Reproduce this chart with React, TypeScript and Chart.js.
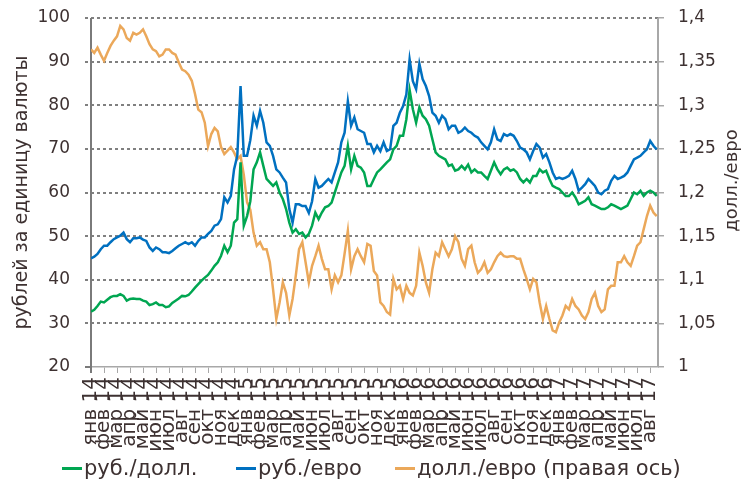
import React, { useEffect, useRef } from 'react';
import { Chart, registerables } from 'chart.js';

Chart.register(...registerables);

// Month labels and years of the x axis (Jan 2014 – Aug 2017)
const MONTHS = ['янв', 'фев', 'мар', 'апр', 'май', 'июн', 'июл', 'авг', 'сен', 'окт', 'ноя', 'дек'];
const YEARS = ['14', '15', '16', '17'];
const MONTH_COUNT = 44; // янв 14 … авг 17
const X_MAX = 43.6; // last observation (late Aug 2017), in months from Jan 2014
const STEP = 0.25; // samples every quarter of a month (≈ weekly)

// руб./долл. (left axis)
const rubUsd = [
  32.7, 33.1, 34.0, 35.0, 34.8, 35.4, 36.0, 36.3, 36.3, 36.7,
  36.3, 35.2, 35.6, 35.7, 35.6, 35.6, 35.2, 35.0, 34.2, 34.4,
  34.8, 34.2, 34.2, 33.7, 33.9, 34.7, 35.2, 35.7, 36.3, 36.2,
  36.5, 37.3, 38.2, 39.0, 39.8, 40.5, 41.1, 42.1, 43.2, 44.0,
  45.5, 47.8, 46.3, 47.8,
  53.1, 53.9, 66.9, 52.4, 54.6, 58.0, 65.3, 66.9, 69.2, 66.1,
  63.1, 62.3, 61.5, 62.3, 60.0, 58.5, 56.2, 53.1, 50.8, 51.6,
  50.5, 50.8, 49.7, 50.5, 52.4, 55.4, 53.9, 55.4, 56.6, 56.9,
  57.7, 60.0, 62.3, 64.6, 66.1, 70.7, 65.3, 68.4, 66.1, 65.7,
  64.6, 61.5, 61.5, 63.1,
  64.6, 65.3, 66.1, 66.9, 67.6, 69.9, 70.7, 73.0, 73.0, 76.8,
  83.5, 79.1, 76.0, 79.5, 77.6, 76.8, 75.3, 72.2, 69.2, 68.4,
  68.0, 67.6, 66.1, 66.4, 65.0, 65.3, 66.1, 65.3, 66.4, 64.6,
  65.3, 64.6, 64.6, 63.8, 63.1, 65.0, 66.9, 65.3, 64.2, 65.3,
  65.7, 65.0, 65.3, 64.6,
  63.1, 62.3, 63.1, 62.3, 63.8, 63.8, 65.3, 64.6, 65.0, 63.1,
  61.5, 61.1, 60.8, 60.0, 59.2, 59.2, 60.0, 58.9, 57.3, 57.7,
  58.1, 58.9, 57.3, 57.0, 56.6, 56.2, 56.2, 56.6, 57.3, 57.0,
  56.6, 56.2, 56.6, 57.0, 58.5, 60.0, 59.6, 60.4, 59.2, 60.0,
  60.4, 60.0, 59.2,
];

// руб./евро (left axis)
const rubEur = [
  44.9, 45.3, 45.9, 47.0, 47.8, 47.8, 48.6, 49.3, 49.7, 50.1,
  50.8, 49.3, 48.6, 49.5, 49.5, 49.7, 49.2, 48.9, 47.4, 46.6,
  47.4, 47.0, 46.3, 46.3, 46.1, 46.6, 47.2, 47.8, 48.2, 48.6,
  48.2, 48.6, 47.8, 48.9, 49.7, 49.7, 50.5, 51.2, 52.4, 52.7,
  53.9, 58.9, 57.7, 59.2,
  65.3, 68.4, 84.4, 68.4, 68.4, 72.0, 77.6, 75.3, 78.7, 76.0,
  71.5, 70.7, 68.4, 65.3, 64.6, 63.4, 62.3, 56.2, 53.1, 57.3,
  57.3, 56.9, 56.9, 55.3, 58.0, 63.1, 61.1, 61.5, 62.3, 63.1,
  62.3, 64.6, 66.9, 71.5, 73.7, 80.9, 75.3, 77.2, 74.5, 74.1,
  73.7, 71.1, 71.1, 69.2,
  70.7, 69.5, 71.5, 69.5, 69.9, 75.3, 76.0, 78.3, 79.8, 82.5,
  90.5, 85.5, 83.7, 89.5, 86.0, 84.4, 82.1, 78.3, 77.6, 76.0,
  77.6, 76.8, 74.5, 75.3, 75.3, 73.7, 74.1, 74.9, 74.1, 73.7,
  73.0, 72.6, 71.5, 70.7, 69.9, 71.5, 74.5, 72.2, 71.8, 73.4,
  73.0, 73.4, 73.0, 71.8,
  70.3, 69.9, 69.2, 67.6, 69.5, 71.1, 70.3, 68.0, 68.8, 66.9,
  64.6, 63.1, 63.4, 63.1, 63.4, 63.8, 65.0, 63.1, 60.4, 61.1,
  61.9, 63.1, 62.3, 61.5, 60.0, 59.6, 60.4, 60.8, 62.7, 63.8,
  63.1, 63.4, 63.8, 64.6, 66.1, 67.6, 68.0, 68.4, 69.2, 69.9,
  71.8, 70.7, 69.9,
];

// долл./евро (right axis)
const usdEur = [
  1.364, 1.36, 1.366, 1.358, 1.351, 1.36, 1.368, 1.374, 1.379, 1.391,
  1.387, 1.377, 1.374, 1.383, 1.381, 1.383, 1.387, 1.379, 1.37, 1.364,
  1.362, 1.356, 1.358, 1.364, 1.364, 1.36, 1.358, 1.349, 1.341, 1.339,
  1.335, 1.328, 1.313, 1.295, 1.292, 1.28, 1.253, 1.267, 1.274, 1.27,
  1.252, 1.244, 1.248, 1.252,
  1.246, 1.238, 1.242, 1.22, 1.189, 1.18, 1.154, 1.139, 1.143, 1.135,
  1.135, 1.12, 1.089, 1.055, 1.074, 1.097, 1.085, 1.059, 1.078, 1.105,
  1.135, 1.143, 1.12, 1.097, 1.116, 1.127, 1.139, 1.124, 1.112, 1.112,
  1.089, 1.105, 1.097, 1.105, 1.13, 1.156, 1.112, 1.127, 1.135, 1.127,
  1.12, 1.141, 1.139, 1.11,
  1.105, 1.074, 1.07, 1.063, 1.06, 1.101, 1.089, 1.093, 1.078, 1.093,
  1.085, 1.082, 1.093, 1.131, 1.116, 1.097, 1.085, 1.112, 1.131, 1.127,
  1.143, 1.135, 1.127, 1.135, 1.15, 1.143, 1.124, 1.116, 1.135, 1.139,
  1.12, 1.108, 1.112, 1.12, 1.108, 1.112, 1.12, 1.127, 1.131, 1.127,
  1.126, 1.127, 1.127, 1.124,
  1.124, 1.112, 1.101, 1.089, 1.101, 1.097, 1.074, 1.055, 1.07, 1.055,
  1.042, 1.04, 1.051, 1.059, 1.07, 1.066, 1.078, 1.07, 1.066, 1.059,
  1.055, 1.063, 1.078, 1.085, 1.07, 1.063, 1.066, 1.089, 1.093, 1.093,
  1.12, 1.12, 1.127, 1.12, 1.116, 1.127, 1.139, 1.143, 1.158, 1.173,
  1.185, 1.177, 1.173,
];

const LEFT_MIN = 20;
const LEFT_MAX = 100;
const LEFT_STEP = 10;
const RIGHT_MIN = 1;
const RIGHT_MAX = 1.4;
const RIGHT_STEP = 0.05;

const LEFT_TITLE = 'рублей за единицу валюты';
const RIGHT_TITLE = 'долл./евро';
const SERIES_NAMES = ['руб./долл.', 'руб./евро', 'долл./евро (правая ось)'];

const GREEN = '#00a651';
const BLUE = '#0070c0';
const ORANGE = '#eba85a';
const TEXT = '#3d3131';
const GRID = '#808080';
const AXIS = '#7a7a7a';
const FONT = "'DejaVu Sans', sans-serif";

const toPoints = (arr: number[]) => arr.map((v, i) => ({ x: i * STEP, y: v }));

// Dashed horizontal grid lines at the left-axis ticks and the axis frame (behind the series)
const frameAndGrid = {
  id: 'frameAndGrid',
  beforeDatasetsDraw(chart: any) {
    const { ctx, chartArea, scales } = chart;
    const ys = scales.y;
    ctx.save();
    ctx.strokeStyle = GRID;
    ctx.lineWidth = 2;
    ctx.setLineDash([3, 3]);
    ys.ticks.forEach((t: any) => {
      if (t.value === LEFT_MIN) return;
      const py = Math.round(ys.getPixelForValue(t.value));
      ctx.beginPath();
      ctx.moveTo(chartArea.left - 6, py);
      ctx.lineTo(chartArea.right, py);
      ctx.stroke();
    });
    ctx.setLineDash([]);
    // left axis line with its tick at the bottom
    ctx.strokeStyle = AXIS;
    ctx.lineWidth = 2;
    ctx.beginPath();
    ctx.moveTo(chartArea.left, chartArea.top);
    ctx.lineTo(chartArea.left, chartArea.bottom + 6);
    ctx.moveTo(chartArea.left - 6, chartArea.bottom);
    ctx.lineTo(chartArea.left, chartArea.bottom);
    ctx.stroke();
    // right axis line
    ctx.strokeStyle = '#a8a8a8';
    ctx.lineWidth = 2;
    ctx.beginPath();
    ctx.moveTo(chartArea.right, chartArea.top);
    ctx.lineTo(chartArea.right, chartArea.bottom);
    ctx.stroke();
    ctx.restore();
  },
};

const axisTitles = {
  id: 'axisTitles',
  afterDraw(chart: any) {
    const { ctx, chartArea } = chart;
    const mid = (chartArea.top + chartArea.bottom) / 2;
    ctx.save();
    ctx.fillStyle = TEXT;
    ctx.font = `19px ${FONT}`;
    ctx.textAlign = 'center';
    ctx.textBaseline = 'middle';
    ctx.translate(22, mid);
    ctx.rotate(-Math.PI / 2);
    ctx.fillText(LEFT_TITLE, 0, 0);
    ctx.restore();
    ctx.save();
    ctx.fillStyle = TEXT;
    ctx.font = `18px ${FONT}`;
    ctx.textAlign = 'center';
    ctx.textBaseline = 'middle';
    ctx.translate(732, mid - 12);
    ctx.rotate(-Math.PI / 2);
    ctx.fillText(RIGHT_TITLE, 0, 0);
    ctx.restore();
  },
};

const fixVertical = (width: number) => (s: any) => {
  s.width = width;
  s.paddingTop = 0;
  s.paddingBottom = 0;
};

export default function App() {
  const ref = useRef<HTMLCanvasElement | null>(null);

  useEffect(() => {
    document.body.style.margin = '0';
    if (!ref.current) return;
    const chart = new Chart(ref.current, {
      type: 'line',
      data: {
        datasets: [
          {
            label: SERIES_NAMES[0],
            data: toPoints(rubUsd),
            borderColor: GREEN,
            yAxisID: 'y',
          },
          {
            label: SERIES_NAMES[1],
            data: toPoints(rubEur),
            borderColor: BLUE,
            yAxisID: 'y',
          },
          {
            label: SERIES_NAMES[2],
            data: toPoints(usdEur),
            borderColor: ORANGE,
            yAxisID: 'y1',
          },
        ],
      },
      options: {
        responsive: false,
        animation: false,
        parsing: false as any,
        elements: {
          line: { borderWidth: 2.5, tension: 0, fill: false },
          point: { radius: 0, hoverRadius: 0 },
        },
        layout: { padding: { top: 18, left: 0, right: 0, bottom: 0 } },
        plugins: {
          legend: { display: false },
          tooltip: { enabled: false },
        },
        scales: {
          x: {
            type: 'linear',
            min: 0,
            max: X_MAX,
            afterFit: (s: any) => {
              s.height = 119;
              s.paddingLeft = 0;
              s.paddingRight = 0;
            },
            afterBuildTicks: (s: any) => {
              s.ticks = Array.from({ length: MONTH_COUNT }, (_, i) => ({ value: i }));
            },
            ticks: {
              autoSkip: false,
              minRotation: 90,
              maxRotation: 90,
              padding: 4,
              color: TEXT,
              font: { family: FONT, size: 20 },
              callback: (v: any) => {
                const n = Math.round(Number(v));
                return MONTHS[n % 12] + ' ' + YEARS[Math.floor(n / 12)];
              },
            },
            grid: {
              drawOnChartArea: false,
              drawTicks: true,
              tickLength: 6,
              color: '#a8a8a8',
            },
            border: { display: true, color: '#a8a8a8', width: 1.5 },
          },
          y: {
            position: 'left',
            min: LEFT_MIN,
            max: LEFT_MAX,
            afterFit: fixVertical(91),
            ticks: {
              stepSize: LEFT_STEP,
              padding: 13,
              color: TEXT,
              font: { family: FONT, size: 17 },
            },
            grid: { display: false },
            border: { display: false },
          },
          y1: {
            position: 'right',
            min: RIGHT_MIN,
            max: RIGHT_MAX,
            afterFit: fixVertical(84),
            ticks: {
              stepSize: RIGHT_STEP,
              padding: 14,
              color: TEXT,
              font: { family: FONT, size: 17 },
              callback: (v: any) => String(Math.round(Number(v) * 100) / 100).replace('.', ','),
            },
            grid: {
              drawOnChartArea: false,
              drawTicks: true,
              tickLength: 6,
              lineWidth: 1.5,
              color: '#a8a8a8',
            },
            border: { display: false },
          },
        },
      },
      plugins: [frameAndGrid, axisTitles],
    });
    return () => chart.destroy();
  }, []);

  const legendItems = [
    { name: SERIES_NAMES[0], color: GREEN, left: 62 },
    { name: SERIES_NAMES[1], color: BLUE, left: 236 },
    { name: SERIES_NAMES[2], color: ORANGE, left: 395 },
  ];

  return (
    <div style={{ position: 'relative', width: 742, height: 486, background: '#fff' }}>
      <canvas ref={ref} width={742} height={486} style={{ display: 'block' }} />
      {legendItems.map((it) => (
        <div
          key={it.name}
          style={{
            position: 'absolute',
            left: it.left,
            top: 455,
            height: 26,
            display: 'flex',
            alignItems: 'center',
            fontFamily: FONT,
            fontSize: 21,
            color: TEXT,
            whiteSpace: 'nowrap',
          }}
        >
          <span style={{ display: 'inline-block', width: 20, height: 3, background: it.color, marginRight: 2 }} />
          <span>{it.name}</span>
        </div>
      ))}
    </div>
  );
}
